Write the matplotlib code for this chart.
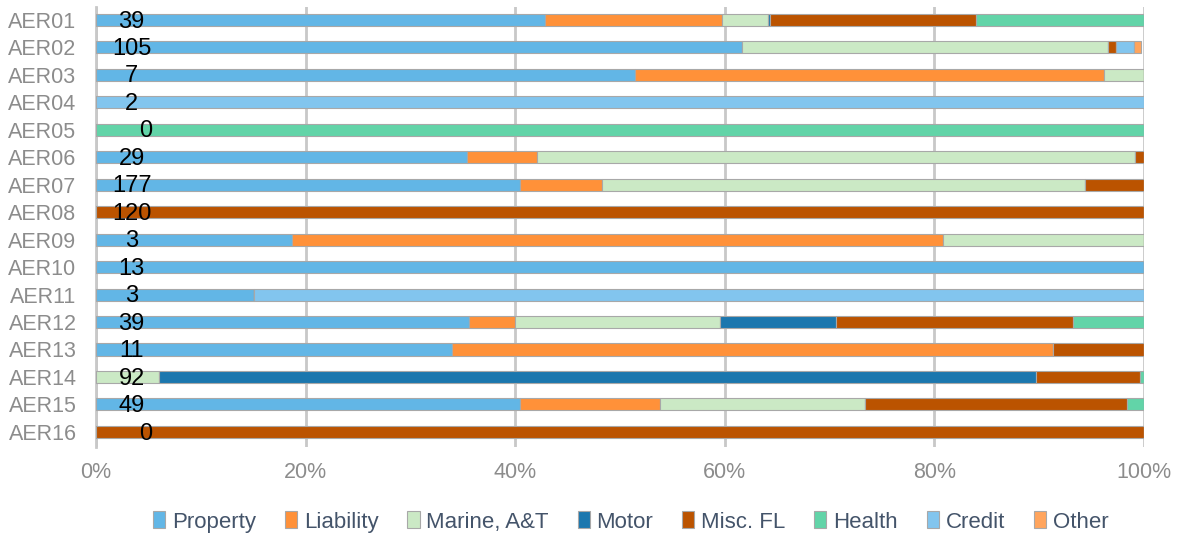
import numpy as np
import matplotlib
matplotlib.use("Agg")
import matplotlib.pyplot as plt

plt.rcParams["font.family"] = ["Liberation Sans", "DejaVu Sans"]

# ===============================
# DATA (share of each line of business, %)
# ===============================
regions = ["AER01", "AER02", "AER03", "AER04", "AER05", "AER06", "AER07", "AER08",
           "AER09", "AER10", "AER11", "AER12", "AER13", "AER14", "AER15", "AER16"]
counts = [39, 105, 7, 2, 0, 29, 177, 120, 3, 13, 3, 39, 11, 92, 49, 0]

series_names = ["Property", "Liability", "Marine, A&T", "Motor", "Misc. FL",
                "Health", "Credit", "Other"]

property_ = [42.8, 61.6, 51.4, 0, 0, 35.4, 40.5, 0, 18.7, 100, 15.1, 35.6, 34.0, 0, 40.5, 0]
liability = [16.9, 0, 44.8, 0, 0, 6.7, 7.8, 0, 62.1, 0, 0, 4.4, 57.3, 0, 13.3, 0]
marine = [4.4, 35.0, 3.8, 0, 0, 57.0, 46.1, 0, 19.2, 0, 0, 19.5, 0, 6.0, 19.6, 0]
motor = [0.2, 0, 0, 0, 0, 0, 0, 0, 0, 0, 0, 11.1, 0, 83.7, 0, 0]
misc_fl = [19.7, 0.7, 0, 0, 0, 0.9, 5.6, 100, 0, 0, 0, 22.6, 8.7, 9.9, 25.0, 100]
health = [16.0, 0, 0, 0, 100, 0, 0, 0, 0, 0, 0, 6.8, 0, 0.4, 1.6, 0]
credit = [0, 1.7, 0, 100, 0, 0, 0, 0, 0, 0, 84.9, 0, 0, 0, 0, 0]
other = [0, 0.7, 0, 0, 0, 0, 0, 0, 0, 0, 0, 0, 0, 0, 0, 0]

series = [property_, liability, marine, motor, misc_fl, health, credit, other]
colors = ["#62B6E6", "#FF9139", "#CBE9C5", "#1B77AE", "#BB5300",
          "#62D4A8", "#82C5EE", "#FFA45C"]

# ===============================
# PLOT
# ===============================
fig = plt.figure(figsize=(11.79, 5.37), dpi=100)
ax = fig.add_axes([0.0814, 0.1676, 0.889, 0.8194])

y = np.arange(len(regions))
left = np.zeros(len(regions))
for name, vals, col in zip(series_names, series, colors):
    vals = np.array(vals, dtype=float)
    ax.barh(y, vals, left=left, height=0.44, color=col, label=name,
            edgecolor="#A8A8A8", linewidth=0.8, zorder=3)
    left += vals

# count labels
for i, c in enumerate(counts):
    xpos = 4.7 if c == 0 else 3.4
    ax.text(xpos, i + 0.06, str(c), ha="center", va="center",
            fontsize=17, color="black", zorder=5)

ax.set_xlim(0, 100)
ax.set_ylim(15.55, -0.47)
ax.set_xticks([0, 20, 40, 60, 80, 100])
ax.set_xticklabels(["0%", "20%", "40%", "60%", "80%", "100%"])
ax.set_yticks(y)
ax.set_yticklabels(regions)
ax.tick_params(axis="both", length=0, labelsize=15.5, labelcolor="#8C8C8C")
ax.tick_params(axis="x", pad=11)
ax.tick_params(axis="y", pad=14)

ax.grid(axis="x", color="#C8C8C8", linewidth=2, zorder=0)
for s in ["top", "right", "bottom"]:
    ax.spines[s].set_visible(False)
ax.spines["left"].set_color("#C8C8C8")
ax.spines["left"].set_linewidth(2)

leg = fig.legend(loc="center", bbox_to_anchor=(0.535, 0.028), ncol=8,
                 frameon=False, fontsize=16, handlelength=0.55, handleheight=0.8,
                 handletextpad=0.3, columnspacing=1.3, labelcolor="#44546A")

fig.savefig("out.png", dpi=100)
